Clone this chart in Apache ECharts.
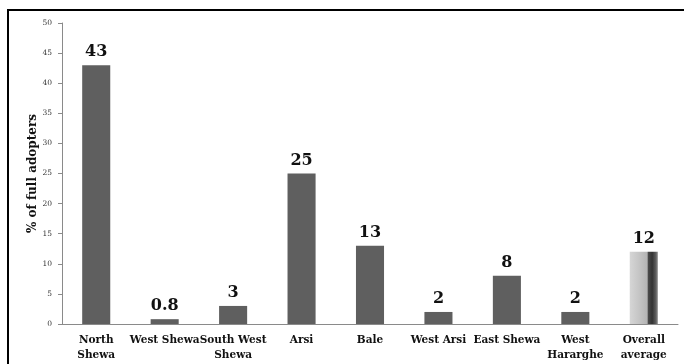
<!DOCTYPE html>
<html>
<head>
<meta charset="utf-8">
<script src="https://cdn.jsdelivr.net/npm/echarts@6/dist/echarts.min.js"></script>
<style>
  html, body { margin: 0; padding: 0; background: #fff; }
  #chart { width: 684px; height: 364px; }
</style>
</head>
<body>
<div id="chart"></div>
<script>
var zones = ['North\nShewa', 'West Shewa', 'South West\nShewa', 'Arsi', 'Bale', 'West Arsi', 'East Shewa', 'West\nHararghe', 'Overall\naverage'];
var adopters = [43, 0.8, 3, 25, 13, 2, 8, 2, 12];
var valueLabels = ['43', '0.8', '3', '25', '13', '2', '8', '2', '12'];

var serif = '"DejaVu Serif", "Liberation Serif", serif';

// last bar (overall average) gets the shaded fill
var avgFill = {
  type: 'linear', x: 0, y: 0, x2: 1, y2: 0,
  colorStops: [
    {offset: 0, color: '#d6d6d6'},
    {offset: 0.35, color: '#c4c4c4'},
    {offset: 0.62, color: '#b4b4b4'},
    {offset: 0.66, color: '#4a4a4a'},
    {offset: 0.8, color: '#333333'},
    {offset: 0.92, color: '#5a5a5a'},
    {offset: 1, color: '#8a8a8a'}
  ]
};

var barData = [];
for (var i = 0; i < adopters.length; i++) {
  var item = {value: adopters[i]};
  if (i == adopters.length - 1) {
    item.itemStyle = {color: avgFill};
  }
  barData.push(item);
}

var myChart = echarts.init(document.getElementById('chart'));
var option = {
  animation: false,
  backgroundColor: '#fff',
  graphic: [{
    type: 'rect',
    shape: {x: 8, y: 10, width: 720, height: 420},
    style: {fill: 'none', stroke: '#000', lineWidth: 2},
    silent: true
  }],
  grid: {left: 62, right: 6, top: 23, bottom: 40},
  xAxis: {
    type: 'category',
    data: zones,
    axisLine: {show: true, lineStyle: {color: '#8a8a8a', width: 1}},
    axisTick: {show: false},
    axisLabel: {
      interval: 0, margin: 9, color: '#111', fontFamily: serif,
      fontWeight: 'bold', fontSize: 10.5, lineHeight: 15
    }
  },
  yAxis: {
    type: 'value',
    min: 0, max: 50, interval: 5,
    name: '% of full adopters',
    nameLocation: 'middle',
    nameGap: 23,
    nameMoveOverlap: false,
    nameTextStyle: {color: '#111', fontFamily: serif, fontWeight: 'bold', fontSize: 12},
    axisLine: {show: true, lineStyle: {color: '#8a8a8a', width: 1}},
    axisTick: {show: true, length: 4, lineStyle: {color: '#8a8a8a'}},
    splitLine: {show: false},
    axisLabel: {color: '#333', fontFamily: serif, fontSize: 7.5, margin: 10}
  },
  series: [{
    type: 'bar',
    data: barData,
    barWidth: '41%',
    itemStyle: {color: '#5f5f5f'},
    label: {
      show: true, position: 'top', distance: 5,
      color: '#111', fontFamily: serif, fontWeight: 'bold', fontSize: 16,
      formatter: function (p) { return valueLabels[p.dataIndex]; }
    }
  }]
};
myChart.setOption(option);
</script>
</body>
</html>
